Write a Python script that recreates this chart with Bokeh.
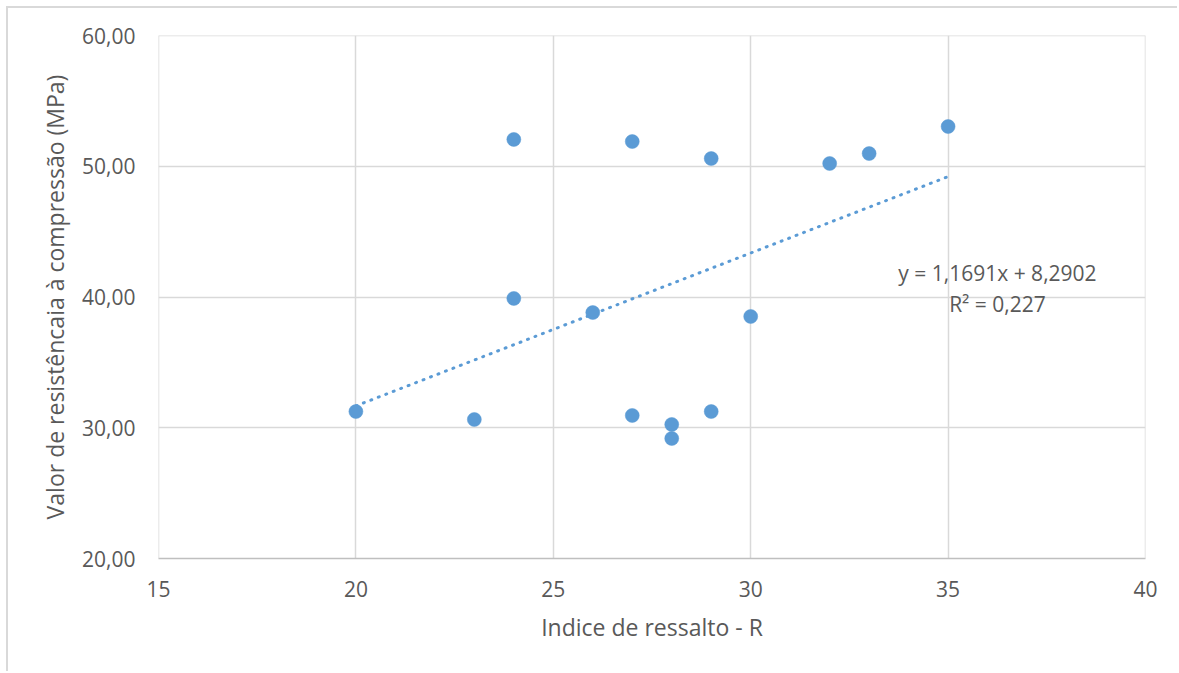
from bokeh.plotting import figure
from bokeh.models import Label, FixedTicker, CustomJSTickFormatter, Range1d, Span
from bokeh.embed import file_html
from bokeh.resources import INLINE

# data
ressalto = [20, 23, 24, 24, 26, 27, 27, 28, 28, 29, 29, 30, 32, 33, 35]
resistencia = [31.24, 30.63, 52.05, 39.89, 38.81, 51.89, 30.94, 30.25, 29.18,
               50.59, 31.24, 38.51, 50.21, 50.97, 53.04]
slope = 1.1691
intercept = 8.2902
r2 = 0.227
x_ticks = [15, 20, 25, 30, 35, 40]
y_ticks = [20, 30, 40, 50, 60]

FONT = "Open Sans"
TXT = "#595959"
BLUE = "#5B9BD5"
GRID = "#d9d9d9"

p = figure(width=1171, height=665, output_backend="svg", toolbar_location=None,
           x_range=Range1d(15, 40), y_range=Range1d(20, 60),
           min_border_left=150, min_border_top=27, min_border_right=34, min_border_bottom=115)
p.styles = {"border-left": "2px solid #d9d9d9", "border-top": "2px solid #d9d9d9",
            "margin-left": "6px", "margin-top": "6px"}
p.outline_line_color = None
p.background_fill_color = "white"
p.border_fill_color = "white"

for g in (p.xgrid, p.ygrid):
    g.grid_line_color = GRID
    g.grid_line_width = 1.5

# grid lines on the range edges
p.add_layout(Span(location=x_ticks[0], dimension="height", line_color=GRID, line_width=1.5))
p.add_layout(Span(location=x_ticks[-1], dimension="height", line_color=GRID, line_width=1.5))
p.add_layout(Span(location=y_ticks[-1], dimension="width", line_color=GRID, line_width=1.5))

p.xaxis.ticker = FixedTicker(ticks=x_ticks)
p.yaxis.ticker = FixedTicker(ticks=y_ticks)
p.yaxis.formatter = CustomJSTickFormatter(code="return tick.toFixed(2).replace('.', ',');")

for ax in (p.xaxis, p.yaxis):
    ax.major_tick_line_color = None
    ax.minor_tick_line_color = None
    ax.major_tick_out = 0
    ax.major_tick_in = 0
    ax.major_label_text_font = FONT
    ax.major_label_text_font_size = "21px"
    ax.major_label_text_color = TXT
    ax.axis_label_text_font = FONT
    ax.axis_label_text_font_size = "23px"
    ax.axis_label_text_color = TXT
    ax.axis_label_text_font_style = "normal"

p.xaxis.axis_line_color = "#bfbfbf"
p.xaxis.axis_line_width = 1.5
p.yaxis.axis_line_color = None

p.xaxis.axis_label = "Indice de ressalto - R"
p.yaxis.axis_label = "Valor de resistêncaia à compressão (MPa)"
p.xaxis.major_label_standoff = 22
p.xaxis.axis_label_standoff = 11
p.yaxis.major_label_standoff = 23
p.yaxis.axis_label_standoff = 8

# trend line
tx = [min(ressalto), max(ressalto)]
ty = [slope * v + intercept for v in tx]
p.line(tx, ty, line_color=BLUE, line_width=3, line_dash="1 7", line_cap="round")

p.scatter(ressalto, resistencia, size=14, fill_color=BLUE, line_color=BLUE, line_width=0.5)

eq1 = "y = " + f"{slope:.4f}".replace(".", ",") + "x + " + f"{intercept:.4f}".replace(".", ",")
eq2 = "R² = " + f"{r2:.3f}".replace(".", ",")
p.add_layout(Label(x=36.25, y=41.8, text=eq1, text_align="center", text_baseline="middle",
                   text_font=FONT, text_font_size="21px", text_color=TXT))
p.add_layout(Label(x=36.25, y=39.5, text=eq2, text_align="center", text_baseline="middle",
                   text_font=FONT, text_font_size="21px", text_color=TXT))

open("out.html", "w").write(file_html(p, INLINE))
